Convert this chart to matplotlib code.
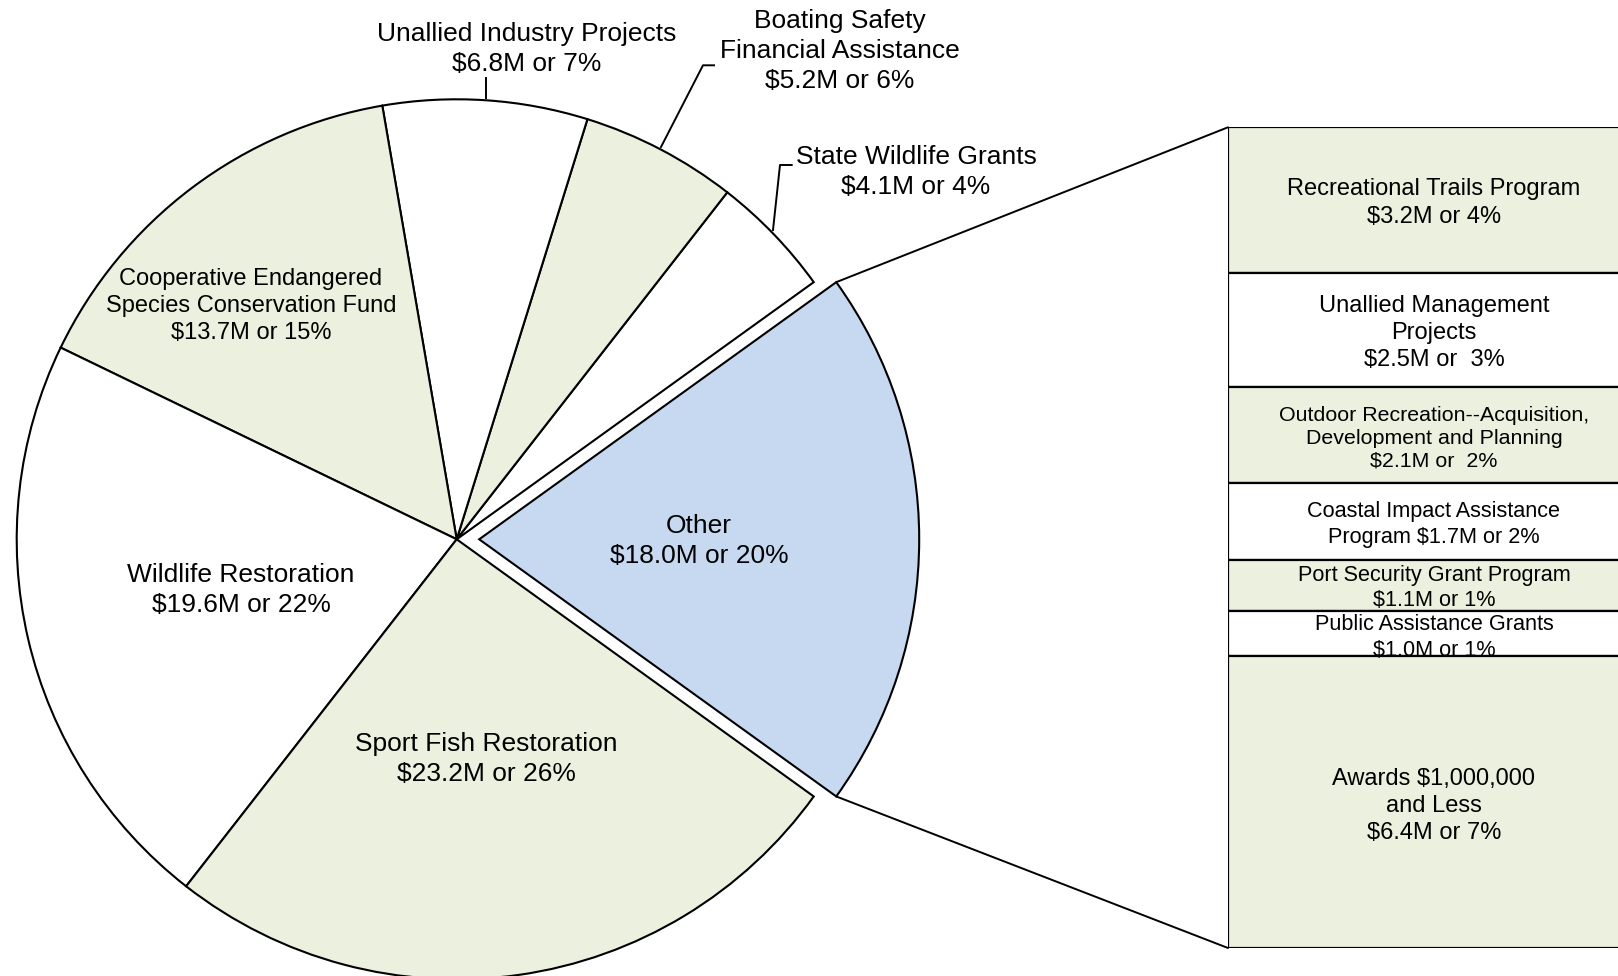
import numpy as np
import matplotlib
matplotlib.use("Agg")
import matplotlib.pyplot as plt
from matplotlib.patches import ConnectionPatch

plt.rcParams['font.family'] = ['Liberation Sans', 'DejaVu Sans']

# pie slices, counter-clockwise starting with the exploded "Other" slice
pie_names = ["Other", "State Wildlife Grants", "Boating Safety\nFinancial Assistance",
             "Unallied Industry Projects", "Cooperative Endangered\nSpecies Conservation Fund",
             "Wildlife Restoration", "Sport Fish Restoration"]
pie_values = [18.0, 4.1, 5.2, 6.8, 13.7, 19.6, 23.2]
pie_pcts = [20, 4, 6, 7, 15, 22, 26]
pie_colors = ["#C6D9F1", "white", "#EBF1DE", "white", "#EBF1DE", "white", "#EBF1DE"]

# breakdown of "Other", top to bottom
bar_names = ["Recreational Trails Program", "Unallied Management\nProjects",
             "Outdoor Recreation--Acquisition,\nDevelopment and Planning",
             "Coastal Impact Assistance\nProgram", "Port Security Grant Program",
             "Public Assistance Grants", "Awards $1,000,000\nand Less"]
bar_values = [3.2, 2.5, 2.1, 1.7, 1.1, 1.0, 6.4]
bar_pcts = [4, 3, 2, 2, 1, 1, 7]
bar_colors = ["#EBF1DE", "white", "#EBF1DE", "white", "#EBF1DE", "white", "#EBF1DE"]

W, H = 1618, 976
fig = plt.figure(figsize=(W / 100, H / 100), dpi=100)
ax = fig.add_axes([0, 0, 1, 1])

R = 440
other_deg = pie_values[0] / sum(pie_values) * 360
# explode is in data units here (pixels)
wedges, _ = ax.pie(pie_values, colors=pie_colors, startangle=-other_deg / 2,
                   counterclock=True, center=(456.7, H - 539.3), radius=R,
                   explode=[22.5, 0, 0, 0, 0, 0, 0],
                   wedgeprops=dict(edgecolor="black", linewidth=1.5))
ax.set_xlim(0, W)
ax.set_ylim(0, H)
ax.set_aspect("equal")
ax.axis("off")

# bar of "Other" (runs past the right edge like the original)
ax2 = fig.add_axes([1228 / W, (H - 948) / H, (1641 - 1228) / W, (948 - 127.3) / H])
bottoms = np.concatenate([[0], np.cumsum(bar_values)[:-1]])
ax2.bar(0, bar_values, bottom=bottoms, width=1, color=bar_colors,
        edgecolor="black", linewidth=1.6)
ax2.set_xlim(-0.5, 0.5)
ax2.set_ylim(sum(bar_values), 0)
ax2.axis("off")

# connectors from the Other wedge to the bar
w = wedges[0]
cx, cy = w.center
for ang, yb in [(w.theta2, 0), (w.theta1, sum(bar_values))]:
    p = (cx + w.r * np.cos(np.radians(ang)), cy + w.r * np.sin(np.radians(ang)))
    con = ConnectionPatch(xyA=p, coordsA=ax.transData, xyB=(-0.5, yb),
                          coordsB=ax2.transData, color="black", linewidth=1.4)
    fig.add_artist(con)

def fmt(name, v, pct):
    return f"{name}\n${v:.1f}M or {pct}%"

# pie labels (pixel positions)
pie_pos = [(699, 541, 19), (916, 172, 19), (840, 51, 19), (527, 49, 19),
           (251, 306, 17), (241, 590, 19), (486, 759, 19)]
for name, v, pct, (x, y, fs) in zip(pie_names, pie_values, pie_pcts, pie_pos):
    ax.text(x, H - y, fmt(name, v, pct), ha="center", va="center",
            fontsize=fs, linespacing=1.32)

# leader lines
ax.plot([485.7, 485.7], [H - 78, H - 97.7], color="black", lw=1.4)
ax.plot([714, 703, 661], [H - 65.3, H - 65.3, H - 147], color="black", lw=1.4)
ax.plot([791.7, 780, 773], [H - 165, H - 165, H - 230], color="black", lw=1.4)

# bar labels
bar_pos = [(203, 17), (333, 17), (438, 15.4), (524.5, 15.6), (588.5, 15.6), (637.5, 15.6), (806, 17)]
bar_texts = [fmt(bar_names[0], 3.2, 4), "Unallied Management\nProjects\n$2.5M or  3%",
             "Outdoor Recreation--Acquisition,\nDevelopment and Planning\n$2.1M or  2%",
             "Coastal Impact Assistance\nProgram $1.7M or 2%",
             fmt(bar_names[4], 1.1, 1), fmt(bar_names[5], 1.0, 1),
             fmt(bar_names[6], 6.4, 7)]
for t, (y, fs) in zip(bar_texts, bar_pos):
    ax2.text(1434, H - y, t, ha="center", va="center", fontsize=fs,
             linespacing=1.25 if fs < 17 else 1.32, transform=ax.transData)

fig.savefig("out.png", dpi=100)
